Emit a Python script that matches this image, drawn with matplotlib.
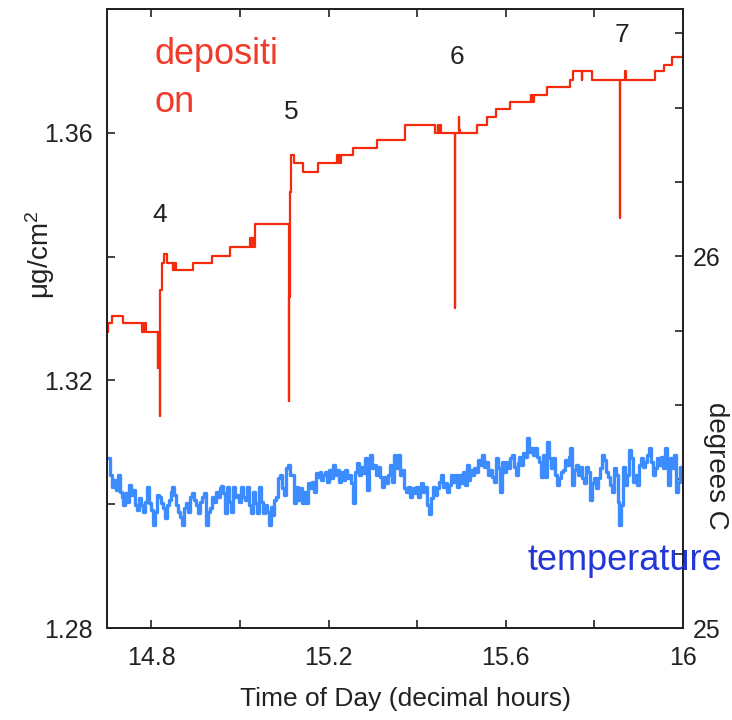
import numpy as np
import matplotlib
matplotlib.use("Agg")
import matplotlib.pyplot as plt
from matplotlib.ticker import MultipleLocator, FixedLocator, FixedFormatter

plt.rcParams['font.family'] = ['Liberation Sans', 'DejaVu Sans']
plt.rcParams['mathtext.fontset'] = 'custom'
plt.rcParams['mathtext.rm'] = 'Liberation Sans'
plt.rcParams['mathtext.it'] = 'Liberation Sans'
plt.rcParams['mathtext.default'] = 'regular'

# Deposited mass (ug/cm^2), step record: value holds from each time to the next
dep_time = [14.700, 14.702, 14.711, 14.736, 14.779, 14.781, 14.783, 14.785, 14.787,
            14.815, 14.8155, 14.819, 14.8195, 14.825, 14.828, 14.835, 14.849, 14.850,
            14.852, 14.853, 14.855, 14.895, 14.937, 14.977, 15.022, 15.025, 15.027,
            15.030, 15.033, 15.110, 15.1104, 15.1108, 15.1112, 15.112, 15.116, 15.121,
            15.142, 15.176, 15.219, 15.221, 15.223, 15.225, 15.227, 15.255, 15.309,
            15.372, 15.440, 15.446, 15.447, 15.452, 15.453, 15.485, 15.4854, 15.4858,
            15.494, 15.495, 15.497, 15.534, 15.557, 15.579, 15.609, 15.656, 15.658,
            15.660, 15.662, 15.664, 15.694, 15.746, 15.751, 15.771, 15.773, 15.794,
            15.857, 15.8574, 15.8578, 15.870, 15.872, 15.936, 15.958, 15.976, 16.000]
dep_mass = [1.3278, 1.3293, 1.3304, 1.3293, 1.3278, 1.3293, 1.3278, 1.3293, 1.3278,
            1.3220, 1.3278, 1.3143, 1.3346, 1.3390, 1.3404, 1.3390, 1.3379, 1.3390,
            1.3379, 1.3390, 1.3379, 1.3390, 1.3401, 1.3416, 1.3430, 1.3416, 1.3430,
            1.3416, 1.3453, 1.3167, 1.3335, 1.3453, 1.3335, 1.3505, 1.3564, 1.3552,
            1.3537, 1.3552, 1.3564, 1.3552, 1.3564, 1.3552, 1.3564, 1.3576, 1.3589,
            1.3613, 1.3600, 1.3613, 1.3600, 1.3613, 1.3600, 1.3317, 1.3553, 1.3600,
            1.3626, 1.3605, 1.3600, 1.3613, 1.3626, 1.3639, 1.3649, 1.3661, 1.3649,
            1.3661, 1.3649, 1.3661, 1.3674, 1.3686, 1.3700, 1.3686, 1.3700, 1.3686,
            1.3463, 1.3650, 1.3686, 1.3700, 1.3686, 1.3700, 1.3710, 1.3723, 1.3726]

# Temperature (degrees C), regularly sampled across the run
temp_start, temp_end = 14.704, 15.996
temp_c = [
    25.457, 25.411, 25.379, 25.398, 25.371, 25.411, 25.366, 25.352, 25.331, 25.363,
    25.339, 25.384, 25.358, 25.371, 25.331, 25.317, 25.349, 25.331, 25.312, 25.339,
    25.379, 25.336, 25.317, 25.277, 25.312, 25.358, 25.352, 25.336, 25.323, 25.296,
    25.331, 25.344, 25.366, 25.379, 25.358, 25.331, 25.312, 25.298, 25.277, 25.323,
    25.336, 25.312, 25.352, 25.363, 25.344, 25.331, 25.309, 25.339, 25.352, 25.363,
    25.277, 25.312, 25.323, 25.352, 25.339, 25.366, 25.352, 25.376, 25.382, 25.363,
    25.309, 25.379, 25.339, 25.312, 25.379, 25.352, 25.358, 25.339, 25.379, 25.352,
    25.344, 25.379, 25.331, 25.309,
    25.366, 25.336, 25.309, 25.379, 25.339, 25.309, 25.331, 25.312, 25.277, 25.325,
    25.304, 25.344, 25.352, 25.403, 25.411, 25.376, 25.358, 25.430, 25.438, 25.411,
    25.411, 25.336, 25.379, 25.344, 25.376, 25.336, 25.366, 25.336, 25.390, 25.376,
    25.392, 25.366, 25.417, 25.406, 25.419, 25.398, 25.411, 25.419, 25.392, 25.425,
    25.403, 25.438, 25.411, 25.425, 25.392, 25.419, 25.398, 25.425, 25.403, 25.411,
    25.390, 25.336, 25.419, 25.444, 25.411, 25.433, 25.417, 25.457, 25.371, 25.446,
    25.465, 25.430, 25.438, 25.411, 25.433, 25.406, 25.379, 25.406, 25.390, 25.411,
    25.438, 25.392, 25.465,
    25.430, 25.465, 25.411, 25.425, 25.376, 25.366, 25.379, 25.352, 25.376, 25.363,
    25.379, 25.352, 25.376, 25.390, 25.366, 25.379, 25.331, 25.306, 25.349, 25.379,
    25.358, 25.376, 25.392, 25.411, 25.379, 25.390, 25.366, 25.384, 25.411, 25.392,
    25.411, 25.379, 25.411, 25.390, 25.419, 25.384, 25.438, 25.398, 25.425, 25.411,
    25.430, 25.419, 25.452, 25.438, 25.465, 25.433, 25.446, 25.411, 25.425, 25.406,
    25.392, 25.457, 25.430, 25.366, 25.446, 25.419, 25.446, 25.430, 25.457, 25.465,
    25.433, 25.411, 25.444, 25.460, 25.438, 25.470, 25.460, 25.511, 25.473, 25.484,
    25.465, 25.484, 25.460, 25.446, 25.406,
    25.465, 25.406, 25.500, 25.457, 25.430, 25.457, 25.411, 25.384, 25.403, 25.419,
    25.425, 25.452, 25.438, 25.460, 25.484, 25.384, 25.425, 25.438, 25.411, 25.433,
    25.403, 25.390, 25.433, 25.419, 25.344, 25.390, 25.403, 25.376, 25.403, 25.430,
    25.465, 25.452, 25.419, 25.406, 25.384, 25.366, 25.430, 25.411, 25.339, 25.277,
    25.331, 25.433, 25.384, 25.411, 25.478, 25.457, 25.392, 25.411, 25.384, 25.438,
    25.457, 25.433, 25.446, 25.465, 25.484, 25.446, 25.411, 25.430, 25.457, 25.438,
    25.460, 25.430, 25.484, 25.446, 25.384, 25.457, 25.430, 25.465, 25.366, 25.392,
    25.433,
]
temp_time = np.linspace(temp_start, temp_end, len(temp_c))

# Deposition event markers
event_labels = ['4', '5', '6', '7']
event_time = [14.815, 15.110, 15.485, 15.857]
event_label_y = [1.3467, 1.3634, 1.3723, 1.3758]

x_ticks = [14.8, 15.2, 15.6, 16.0]
x_tick_labels = ['14.8', '15.2', '15.6', '16']
mass_ticks = [1.28, 1.32, 1.36]
mass_tick_labels = ['1.28', '1.32', '1.36']
temp_ticks = [25, 26]

fig = plt.figure(figsize=(7.32, 7.20), dpi=100)
ax = fig.add_axes([107 / 732, 1 - 628 / 720, 576 / 732, 619 / 720])
ax2 = ax.twinx()

ax.step(dep_time, dep_mass, where='post', color='#f42a0c', lw=1.6, zorder=3)
ax2.step(temp_time, temp_c, where='mid', color='#3d8cff', lw=2.4, zorder=2)

ax.set_xlim(14.7, 16.0)
ax.set_ylim(1.28, 1.38)
ax2.set_ylim(25.0, 26.665)

ax.xaxis.set_major_locator(FixedLocator(x_ticks))
ax.xaxis.set_major_formatter(FixedFormatter(x_tick_labels))
ax.xaxis.set_minor_locator(MultipleLocator(0.2))
ax.yaxis.set_major_locator(FixedLocator(mass_ticks))
ax.yaxis.set_major_formatter(FixedFormatter(mass_tick_labels))
ax.yaxis.set_minor_locator(MultipleLocator(0.02))
ax2.yaxis.set_major_locator(FixedLocator(temp_ticks))
ax2.yaxis.set_minor_locator(MultipleLocator(0.2))

ax.tick_params(axis='x', which='both', direction='in', top=True, bottom=True,
               length=6, width=1.2, labelsize=18, pad=13, colors='#222222')
ax.tick_params(axis='y', which='both', direction='in', left=True, right=False,
               length=6, width=1.2, labelsize=18, pad=10, colors='#222222')
ax2.tick_params(axis='y', which='both', direction='in', right=True, left=False,
                length=6, width=1.2, labelsize=18, pad=7, colors='#222222')

for a in (ax, ax2):
    for s in a.spines.values():
        s.set_linewidth(1.4)
        s.set_color('#222222')

for lab, t, y in zip(event_labels, event_time, event_label_y):
    ax.text(t + 0.005, y, lab, fontsize=19, color='#222222', ha='center', va='center')

ax.text((155 - 107) / 576, (628 - 55) / 619, 'depositi', transform=ax.transAxes,
        fontsize=26, color='#f23a2a', ha='left', va='center')
ax.text((155 - 107) / 576, (628 - 102) / 619, 'on', transform=ax.transAxes,
        fontsize=26, color='#f23a2a', ha='left', va='center')
ax2.text((527 - 107) / 576, (628 - 560) / 619, 'temperature', transform=ax.transAxes,
         fontsize=26, color='#2436d8', ha='left', va='center', clip_on=False, zorder=5)

fig.text(405 / 732, 1 - 699 / 720, 'Time of Day (decimal hours)', fontsize=19,
         color='#222222', ha='center', va='center')
fig.text(40 / 732, 1 - 255 / 720, r'$\mu$g/cm$^2$', fontsize=20, rotation=90,
         color='#222222', ha='center', va='center')
fig.text(716 / 732, 1 - 466 / 720, 'degrees C', fontsize=20, rotation=-90,
         color='#222222', ha='center', va='center')

fig.savefig('out.png', dpi=100, facecolor='white')
